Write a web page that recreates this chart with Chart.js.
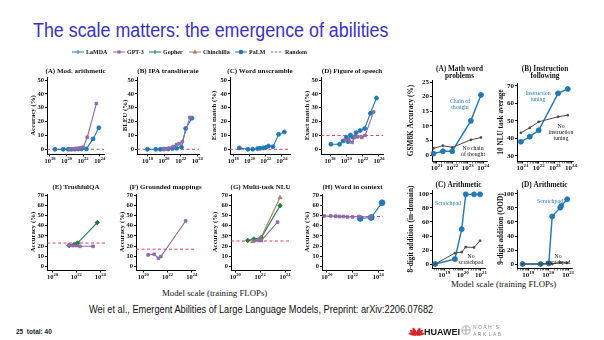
<!DOCTYPE html>
<html>
<head>
<meta charset="utf-8">
<script src="https://cdn.jsdelivr.net/npm/chart.js@4.4.1/dist/chart.umd.min.js"></script>
<style>
  body { margin:0; width:604px; height:340px; background:#fff; position:relative; overflow:hidden; font-family:"Liberation Sans", Arial, sans-serif; }
  canvas { position:absolute; }
  .txt { position:absolute; white-space:nowrap; transform-origin:0 0; }
  #title { left:33px; top:20px; font-size:19.5px; line-height:20px; color:#3a32c4; transform:scaleX(0.916); }
  .xcap { font-family:"Liberation Serif", serif; font-size:8.8px; color:#111; }
  #cite { left:89px; top:304px; font-size:10px; color:#111; transform:scaleX(0.922); }
  #page { left:16px; top:328px; font-size:6.5px; font-weight:bold; color:#222; }
</style>
</head>
<body>
<div id="title" class="txt">The scale matters: the emergence of abilities</div>
<div class="txt xcap" style="left:162px;top:288px">Model scale (training FLOPs)</div>
<div class="txt xcap" style="left:451px;top:279px">Model scale (training FLOPs)</div>
<div id="cite" class="txt">Wei et al., Emergent Abilities of Large Language Models, Preprint: arXiv:2206.07682</div>
<div id="page" class="txt">25&nbsp;&nbsp;total: 40</div>

<script>
const BLUE = '#1f78b8', PURPLE = '#8f6aa8', GREEN = '#1d7a3d', BROWN = '#a87c63', PINK = '#e23a70', GRAY = '#4a4a4a';
const SERIF = '"Liberation Serif", "Times New Roman", serif';

// x values are log10(training FLOPs)
const modArithLamda = [[18.6,0],[19.6,0],[20.2,0],[20.6,0],[21.0,0.1],[21.4,0.2],[21.8,0.3],[22.4,0.3],[23.2,7.5],[23.9,15.5]];
const modArithGpt3  = [[20.4,0],[20.8,0.3],[21.2,0.6],[21.6,1],[22.0,1.5],[22.5,8.7],[23.6,33]];

const ipaLamda = [[18.0,0],[19.0,0],[19.55,0],[20.0,0.2],[20.5,0.3],[21.0,0.5],[21.5,0.8],[22.1,1.5],[22.6,15],[23.35,22.5]];
const ipaGpt3  = [[19.9,0],[20.3,0.4],[20.7,0.8],[21.1,2],[21.5,3.5],[21.8,4],[22.2,5.5],[23.1,23]];

const unscrambleLamda = [[18.75,1],[19.8,0],[20.4,0],[21.0,0.5],[21.3,0.7],[21.7,1],[22.05,1.4],[22.35,2.4],[22.9,1.9],[23.6,10.8],[24.3,12.5]];

const speechLamda = [[18.1,3.6],[19.15,3.6],[19.6,6],[20.0,8.7],[20.2,5.5],[20.5,10.3],[20.8,8.7],[21.2,12],[21.7,13.5],[22.25,15],[22.95,26],[23.7,37]];
const speechGpt3  = [[19.9,6.5],[20.3,7],[20.7,5],[21.0,8.5],[21.4,9],[21.9,8.5],[22.3,10],[23.35,27]];

const truthfulGopher = [[21.4,20.5],[21.8,21.5],[22.1,23],[23.75,43]];
const truthfulGpt3   = [[21.4,21],[21.7,20.5],[22.0,20.5],[22.3,19.8],[23.4,19.8]];

const groundedGpt3 = [[20.4,11.4],[20.9,12],[21.25,8],[21.45,9.8],[23.5,44.6]];

const nluGopher     = [[21.0,25.5],[21.5,27],[22.1,28.5],[23.6,59.5]];
const nluChinchilla = [[21.4,24.5],[22.0,26.5],[23.6,67.5]];
const nluGpt3       = [[21.6,25.5],[21.9,25.5],[22.1,25.5],[23.4,43.5]];

const wicGpt3 = [[19.8,49.5],[20.3,49.5],[20.7,49.3],[21.0,49],[21.3,49],[21.6,48.5],[22.0,48.5],[22.5,49],[23.4,48.5]];
const wicPalm = [[22.6,47],[23.45,48],[24.3,62.5]];

const gsmCot   = [[20.8,0.5],[21.4,1.3],[22.0,1.3],[23.2,11.7],[23.85,20.6]];
const gsmNoCot = [[20.8,2.3],[21.4,3.2],[22.0,2.6],[23.2,5.2],[23.85,6.0]];

const instrTuned   = [[20.9,38.1],[21.45,41],[22.0,44.7],[23.2,65.8],[23.8,68.3]];
const instrUntuned = [[20.9,43.2],[21.45,46.1],[22.0,49.5],[23.2,52.4],[23.8,53.3]];

const addInScratch   = [[18.5,0],[19.58,7],[19.95,49.8],[20.17,99.5],[20.62,99.5],[20.95,99.5]];
const addInNoScratch = [[18.5,0],[19.58,15.6],[19.95,17],[20.17,24.2],[20.62,23.7],[20.95,33.2]];

const addOodScratch   = [[18.72,0],[19.62,0],[20.03,1],[20.2,68],[20.6,80.5],[20.65,83],[20.95,92.5]];
const addOodNoScratch = [[18.72,0],[19.62,0],[20.03,0],[20.2,0],[20.6,2],[20.95,1.5]];

// random-guess baselines
const randomModArith = 0, randomIpa = 0, randomUnscramble = 0, randomSpeech = 10;
const randomTruthful = 23, randomGrounded = 17, randomNlu = 25, randomWic = 49;

// tick values
const yTicks50 = [0,10,20,30,40,50];
const yTicks70 = [0,10,20,30,40,50,60,70];
const yTicksGsm = [0,5,10,15,20,25];
const yTicksInstr = [30,40,50,60,70];
const yTicks100 = [0,20,40,60,80,100];
const xPowTop = [18,20,22,24];
const xPowBottom = [20,22,24];
const xPowRightTop = [21,22,23,24];
const xPowRightBottom = [19,20,21];

function withMinor(lo, hi) {
  const out = [];
  for (let n = lo; n < hi; n++) for (let k = 1; k < 10; k++) out.push(n + Math.log10(k));
  out.push(hi);
  return out;
}

function lamda(d){ return {data:d, borderColor:BLUE, backgroundColor:BLUE, pointStyle:'circle', pointRadius:2, borderWidth:1.1}; }
function palm(d){ return {data:d, borderColor:BLUE, backgroundColor:BLUE, pointStyle:'circle', pointRadius:2.9, borderWidth:1.2}; }
function gpt3(d){ return {data:d, borderColor:PURPLE, backgroundColor:PURPLE, pointStyle:'rect', pointRadius:1.9, borderWidth:1.1}; }
function gopher(d){ return {data:d, borderColor:GREEN, backgroundColor:GREEN, pointStyle:'rectRot', pointRadius:2.3, borderWidth:1.1}; }
function chinchilla(d){ return {data:d, borderColor:BROWN, backgroundColor:BROWN, pointStyle:'triangle', pointRadius:2.3, borderWidth:1.1}; }
function main(d){ return {data:d, borderColor:BLUE, backgroundColor:BLUE, pointStyle:'circle', pointRadius:2.5, borderWidth:1.4}; }
function base(d){ return {data:d, borderColor:GRAY, backgroundColor:GRAY, pointStyle:'rect', pointRadius:1.2, borderWidth:1}; }

const panels = [
  {box:[47,77,104,154], xr:[17.64,24.52], yr:[-3.4,52.2], yTicks:yTicks50, xPow:xPowTop, title:['(A) Mod. arithmetic'], titleGap:4,
   yTitle:'Accuracy (%)', yGap:14, random:randomModArith, series:[gpt3(modArithGpt3), lamda(modArithLamda)]},
  {box:[137,77,199,154], xr:[16.75,24.2], yr:[-3.4,52.2], yTicks:yTicks50, xPow:xPowTop, title:['(B) IPA transliterate'], titleGap:4,
   yTitle:'BLEU (%)', yGap:12, random:randomIpa, series:[gpt3(ipaGpt3), lamda(ipaLamda)]},
  {box:[230,77,290,154], xr:[17.6,25.0], yr:[-3.4,52.2], yTicks:yTicks50, xPow:xPowTop, title:['(C) Word unscramble'], titleGap:4,
   yTitle:'Exact match (%)', yGap:16, random:randomUnscramble, series:[lamda(unscrambleLamda)]},
  {box:[321,77,383,154], xr:[16.88,24.5], yr:[-3.4,52.2], yTicks:yTicks50, xPow:xPowTop, title:['(D) Figure of speech'], titleGap:4,
   yTitle:'Exact match (%)', yGap:14, random:randomSpeech, series:[gpt3(speechGpt3), lamda(speechLamda)]},
  {box:[47,194,105,270], xr:[19.54,24.4], yr:[-3.4,71], yTicks:yTicks70, xPow:xPowBottom, title:['(E) TruthfulQA'], titleGap:5,
   yTitle:'Accuracy (%)', yGap:14, random:randomTruthful, series:[gpt3(truthfulGpt3), gopher(truthfulGopher)]},
  {box:[136,194,195,270], xr:[19.4,24.27], yr:[-3.4,71], yTicks:yTicks70, xPow:xPowBottom, title:['(F) Grounded mappings'], titleGap:5,
   yTitle:'Accuracy (%)', yGap:14, random:randomGrounded, series:[gpt3(groundedGpt3)]},
  {box:[231,194,290,270], xr:[19.66,24.4], yr:[-3.4,71], yTicks:yTicks70, xPow:xPowBottom, title:['(G) Multi-task NLU'], titleGap:5,
   yTitle:'Accuracy (%)', yGap:16, random:randomNlu, series:[gpt3(nluGpt3), chinchilla(nluChinchilla), gopher(nluGopher)]},
  {box:[322,194,383,270], xr:[19.62,24.37], yr:[-3.4,71], yTicks:yTicks70, xPow:xPowBottom, title:['(H) Word in context'], titleGap:5,
   yTitle:'Accuracy (%)', yGap:15, random:randomWic, series:[gpt3(wicGpt3), palm(wicPalm)]},

  {box:[432,80,487,161], xr:[20.7,24.24], yr:[-2.05,25.7], yTicks:yTicksGsm, xPow:xPowRightTop, minor:[20,24], title:['(A) Math word','problems'], titleGap:2,
   yTitle:'GSM8K Accuracy (%)', yGap:21, big:true, series:[base(gsmNoCot), main(gsmCot)],
   notes:[{x:460,y:101,color:BLUE,lines:['Chain of','thought']},{x:473,y:148,color:'#111',lines:['No chain','of thought']}]},
  {box:[517,83,573,161], xr:[20.66,24.12], yr:[27.1,71.7], yTicks:yTicksInstr, xPow:xPowRightTop, minor:[20,24], title:['(B) Instruction','following'], titleGap:5,
   yTitle:'10 NLU task average', yGap:16, big:true, series:[base(instrUntuned), main(instrTuned)],
   notes:[{x:538,y:93,color:BLUE,lines:['Instruction','tuning']},{x:561,y:126,color:'#111',lines:['No','instruction','tuning']}]},
  {box:[432,190,485,268], xr:[18.33,21.22], yr:[-5.7,105.7], yTicks:yTicks100, xPow:xPowRightBottom, minor:[18,21], title:['(C) Arithmetic'], titleGap:3,
   yTitle:'8-digit addition (in-domain)', yGap:21, big:true, series:[base(addInNoScratch), main(addInScratch)],
   notes:[{x:448,y:203,color:BLUE,lines:['Scratchpad']},{x:471,y:256,color:'#111',lines:['No','scratchpad']}]},
  {box:[517,190,572,268], xr:[18.44,21.19], yr:[-5.7,105.7], yTicks:yTicks100, xPow:xPowRightBottom, minor:[18,21], title:['(D) Arithmetic'], titleGap:3,
   yTitle:'9-digit addition (OOD)', yGap:16, big:true, series:[base(addOodNoScratch), main(addOodScratch)],
   notes:[{x:550,y:201,color:BLUE,lines:['Scratchpad']},{x:558,y:256,color:'#111',lines:['No','scratchpad']}]}
];

// titles, baselines, axis captions and 10^n labels drawn around each panel
const panelDecor = {
  id: 'panelDecor',
  beforeDatasetsDraw(chart, args, o) {
    if (o.random == null) return;
    const {ctx, chartArea:a} = chart;
    const y = chart.scales.y.getPixelForValue(o.random);
    ctx.save();
    ctx.strokeStyle = PINK; ctx.lineWidth = 1; ctx.setLineDash([3,2.5]);
    ctx.beginPath(); ctx.moveTo(a.left, y); ctx.lineTo(a.right, y); ctx.stroke();
    ctx.restore();
  },
  afterDraw(chart, args, o) {
    const {ctx, chartArea:a} = chart;
    const ox = chart.canvas.offsetLeft, oy = chart.canvas.offsetTop;
    ctx.save();
    ctx.fillStyle = '#111';
    ctx.textAlign = 'center'; ctx.textBaseline = 'alphabetic';
    ctx.font = `bold ${o.titleSize}px ${SERIF}`;
    const n = o.title.length;
    o.title.forEach((line, i) => ctx.fillText(line, (a.left + a.right) / 2, a.top - o.titleGap - (n - 1 - i) * o.titleSize * 0.95));

    ctx.save();
    ctx.translate(a.left - o.yGap, (a.top + a.bottom) / 2);
    ctx.rotate(-Math.PI / 2);
    ctx.textBaseline = 'middle';
    ctx.font = `bold ${o.yTitleSize}px ${SERIF}`;
    ctx.fillText(o.yTitle, 0, 0);
    ctx.restore();

    const xs = chart.scales.x, fs = o.tickSize;
    ctx.textAlign = 'left';
    o.xPow.forEach(e => {
      const x = xs.getPixelForValue(e);
      ctx.font = `bold ${fs}px ${SERIF}`;
      const wb = ctx.measureText('10').width;
      ctx.font = `bold ${fs * 0.7}px ${SERIF}`;
      const we = ctx.measureText(String(e)).width;
      const x0 = x - (wb + we) / 2, yb = a.bottom + 9;
      ctx.font = `bold ${fs}px ${SERIF}`;
      ctx.fillText('10', x0, yb);
      ctx.font = `bold ${fs * 0.7}px ${SERIF}`;
      ctx.fillText(String(e), x0 + wb, yb - fs * 0.4);
    });

    ctx.textAlign = 'center';
    ctx.font = `${o.noteSize}px ${SERIF}`;
    (o.notes || []).forEach(nt => {
      ctx.fillStyle = nt.color;
      nt.lines.forEach((t, i) => ctx.fillText(t, nt.x - ox, nt.y - oy + 2 + i * o.noteSize));
    });
    ctx.restore();
  }
};

function makePanel(p) {
  const [l, t, r, b] = p.box;
  const padL = 42, padT = 28, padR = 10, padB = 20;
  const c = document.createElement('canvas');
  c.width = r - l + padL + padR;
  c.height = b - t + padT + padB;
  c.style.left = (l - padL) + 'px';
  c.style.top = (t - padT) + 'px';
  document.body.appendChild(c);
  const tickSize = p.big ? 7 : 6.5;
  const xTicks = p.minor ? withMinor(p.minor[0], p.minor[1]).filter(v => v >= p.xr[0] && v <= p.xr[1]) : p.xPow;
  p.series.forEach(s => { s.clip = false; s.pointBorderWidth = 0.8; });
  new Chart(c, {
    type: 'line',
    data: { datasets: p.series },
    plugins: [panelDecor],
    options: {
      responsive: false, animation: false, devicePixelRatio: 1,
      layout: { padding: { left: 0, top: padT, right: padR, bottom: 0 } },
      plugins: {
        legend: { display: false }, tooltip: { enabled: false },
        panelDecor: {
          title: p.title, titleGap: p.titleGap, titleSize: p.big ? 7.3 : 7,
          yTitle: p.yTitle, yGap: p.yGap, yTitleSize: p.big ? 7.3 : 6.8,
          random: p.random, xPow: p.xPow, tickSize, notes: p.notes, noteSize: 5.8
        }
      },
      scales: {
        x: {
          type: 'linear', min: p.xr[0], max: p.xr[1],
          afterBuildTicks: s => { s.ticks = xTicks.map(v => ({ value: v })); },
          afterFit: s => { s.height = padB; s.paddingLeft = 0; s.paddingRight = 0; },
          ticks: { display: false },
          grid: { drawOnChartArea: false, tickLength: 2.5, color: '#000',
                  lineWidth: ctx => (ctx.tick && Math.abs(ctx.tick.value - Math.round(ctx.tick.value)) < 1e-6) ? 1 : 0.5 },
          border: { color: '#000', width: 1 }
        },
        y: {
          min: p.yr[0], max: p.yr[1],
          afterBuildTicks: s => { s.ticks = p.yTicks.map(v => ({ value: v })); },
          afterFit: s => { s.width = padL; s.paddingTop = 0; s.paddingBottom = 0; },
          ticks: { font: { family: SERIF, size: tickSize, weight: 'bold' }, color: '#111', padding: 1 },
          grid: { drawOnChartArea: false, tickLength: 2, color: '#000' },
          border: { color: '#000', width: 1 }
        }
      }
    }
  });
}
panels.forEach(makePanel);

// shared legend row
const legendItems = [
  { label: 'LaMDA', color: BLUE, marker: 'plus', x: 72 },
  { label: 'GPT-3', color: PURPLE, marker: 'square', x: 113 },
  { label: 'Gopher', color: GREEN, marker: 'plus', x: 149 },
  { label: 'Chinchilla', color: BROWN, marker: 'triangle', x: 189 },
  { label: 'PaLM', color: BLUE, marker: 'dot', x: 235 },
  { label: 'Random', color: PINK, marker: 'dash', x: 271 }
];
(function drawLegend() {
  const c = document.createElement('canvas');
  c.width = 260; c.height = 12;
  c.style.left = '66px'; c.style.top = '46px';
  document.body.appendChild(c);
  const ctx = c.getContext('2d');
  const y = 6;
  legendItems.forEach(it => {
    const x = it.x - 66, w = 12, cx = x + w / 2;
    ctx.strokeStyle = it.color; ctx.fillStyle = it.color; ctx.lineWidth = 1;
    if (it.marker === 'dash') ctx.setLineDash([2, 2]); else ctx.setLineDash([]);
    ctx.beginPath(); ctx.moveTo(x, y); ctx.lineTo(x + w, y); ctx.stroke();
    ctx.setLineDash([]);
    if (it.marker === 'plus') {
      ctx.beginPath(); ctx.moveTo(cx, y - 2); ctx.lineTo(cx, y + 2); ctx.stroke();
    } else if (it.marker === 'square') {
      ctx.fillRect(cx - 1.6, y - 1.6, 3.2, 3.2);
    } else if (it.marker === 'triangle') {
      ctx.beginPath(); ctx.moveTo(cx, y - 2.4); ctx.lineTo(cx + 2.2, y + 1.6); ctx.lineTo(cx - 2.2, y + 1.6); ctx.fill();
    } else if (it.marker === 'dot') {
      ctx.beginPath(); ctx.arc(cx, y, 2.3, 0, Math.PI * 2); ctx.fill();
    }
    ctx.fillStyle = '#111';
    ctx.font = `bold 6px ${SERIF}`;
    ctx.textBaseline = 'middle';
    ctx.fillText(it.label, x + w + 2, y + 0.5);
  });
})();

// footer logos
(function drawLogos() {
  const c = document.createElement('canvas');
  c.width = 110; c.height = 20;
  c.style.left = '404px'; c.style.top = '320px';
  document.body.appendChild(c);
  const ctx = c.getContext('2d');
  const fx = 12.5, fy = 15;
  ctx.fillStyle = '#d9252b';
  [-78, -52, -26, 26, 52, 78].forEach(deg => {
    ctx.save();
    ctx.translate(fx, fy);
    ctx.rotate(deg * Math.PI / 180);
    ctx.beginPath(); ctx.ellipse(0, -4, 1.4, 4, 0, 0, Math.PI * 2); ctx.fill();
    ctx.restore();
  });
  ctx.fillStyle = '#1a1a1a';
  ctx.font = 'bold 9px "Liberation Sans", Arial, sans-serif';
  ctx.textBaseline = 'alphabetic';
  ctx.fillText('HUAWEI', 20, 15);
  ctx.strokeStyle = '#9a9a9a'; ctx.lineWidth = 0.8;
  ctx.beginPath(); ctx.arc(62, 10, 4.2, 0, Math.PI * 2); ctx.stroke();
  ctx.beginPath(); ctx.moveTo(58, 10); ctx.lineTo(66, 10); ctx.moveTo(62, 6); ctx.lineTo(62, 14); ctx.stroke();
  ctx.fillStyle = '#8a8a8a';
  ctx.font = '5px "Liberation Sans", Arial, sans-serif';
  ctx.fillText('N O A H \u2019 S', 69, 9);
  ctx.fillText('A R K  L A B', 69, 15.5);
})();
</script>
</body>
</html>
